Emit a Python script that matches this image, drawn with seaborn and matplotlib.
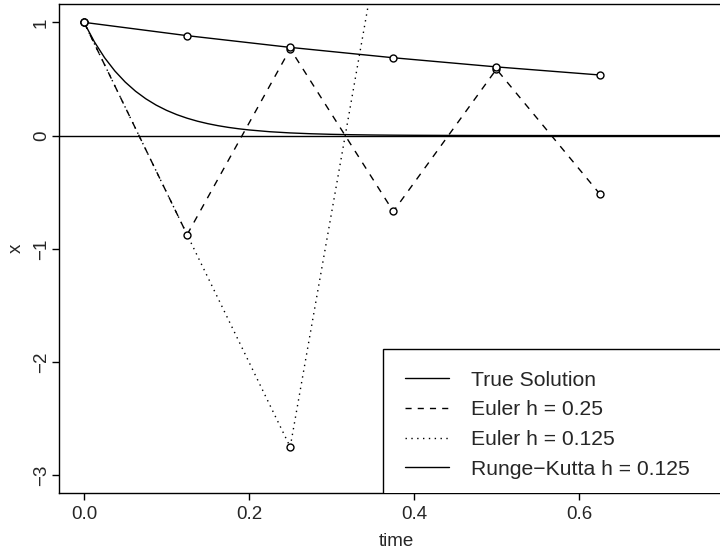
import numpy as np
import pandas as pd
import matplotlib
matplotlib.use("Agg")
import matplotlib.pyplot as plt
from matplotlib.lines import Line2D
import seaborn as sns

# ---- data ----
true_t = [0.0, 0.0125, 0.025, 0.0375, 0.05, 0.0625, 0.075, 0.0875, 0.1, 0.1125,
          0.125, 0.1375, 0.15, 0.1625, 0.175, 0.1875, 0.2, 0.225, 0.25, 0.275,
          0.3, 0.325, 0.35, 0.375, 0.4, 0.45, 0.5, 0.6, 0.7, 0.8]
true_x = [1.0, 0.8290, 0.6873, 0.5698, 0.4724, 0.3916, 0.3247, 0.2691, 0.2231, 0.1850,
          0.1534, 0.1271, 0.1054, 0.0874, 0.0724, 0.0601, 0.0498, 0.0342, 0.0235, 0.0162,
          0.0111, 0.0076, 0.0052, 0.0036, 0.0025, 0.0012, 0.0006, 0.0001, 0.0, 0.0]

euler_a_t = [0.0, 0.125, 0.25, 0.375, 0.5, 0.625]
euler_a_x = [1.0, -0.875, 0.7656, -0.6699, 0.5862, -0.5129]

euler_b_t = [0.0, 0.25, 0.5]
euler_b_x = [1.0, -2.75, 7.5625]

rk_t = [0.0, 0.125, 0.25, 0.375, 0.5, 0.625]
rk_x = [1.0, 0.8825, 0.7788, 0.6873, 0.6065, 0.5353]

legend_labels = ["True Solution", "Euler h = 0.25", "Euler h = 0.125",
                 "Runge\u2212Kutta h = 0.125"]
x_ticks = [0.0, 0.2, 0.4, 0.6]
x_tick_labels = ["0.0", "0.2", "0.4", "0.6"]
y_ticks = [-3, -2, -1, 0, 1]
y_tick_labels = ["\u22123", "\u22122", "\u22121", "0", "1"]

# ---- style ----
sns.set_style("white")
plt.rcParams["font.family"] = ["Liberation Sans", "DejaVu Sans"]
plt.rcParams["axes.unicode_minus"] = True

W, H = 720, 552
fig = plt.figure(figsize=(W / 100, H / 100), dpi=100)
left, right, top, bottom = 59, 734, 4, 493.3
ax = fig.add_axes([left / W, 1 - bottom / H, (right - left) / W, (bottom - top) / H])

dash_ls = (0, (5, 5))
dot_ls = (0, (1, 3.2))
mk = dict(marker="o", markersize=5, markerfacecolor="white",
          markeredgecolor="black", markeredgewidth=1.0)

df_true = pd.DataFrame({"t": true_t, "x": true_x})
df_ea = pd.DataFrame({"t": euler_a_t, "x": euler_a_x})
df_eb = pd.DataFrame({"t": euler_b_t, "x": euler_b_x})
df_rk = pd.DataFrame({"t": rk_t, "x": rk_x})

ax.axhline(0, color="black", lw=1.0, zorder=1)
sns.lineplot(data=df_true, x="t", y="x", ax=ax, color="black", lw=1.0,
             sort=False, estimator=None, zorder=2)
sns.lineplot(data=df_eb, x="t", y="x", ax=ax, color="black", lw=1.0,
             linestyle=dot_ls, sort=False, estimator=None, zorder=3, **mk)
sns.lineplot(data=df_ea, x="t", y="x", ax=ax, color="black", lw=1.0,
             linestyle=dash_ls, sort=False, estimator=None, zorder=4, **mk)
sns.lineplot(data=df_rk, x="t", y="x", ax=ax, color="black", lw=1.0,
             sort=False, estimator=None, zorder=5, **mk)

ax.set_xlim(-0.0303, 0.788)
ax.set_ylim(-3.159, 1.162)
ax.set_xticks(x_ticks)
ax.set_xticklabels(x_tick_labels)
ax.set_yticks(y_ticks)
ax.set_yticklabels(y_tick_labels, rotation=90, va="center")
ax.tick_params(axis="both", direction="out", length=5, width=1.0, color="black",
               labelsize=13.5, bottom=True, left=True)
ax.tick_params(axis="x", pad=4)
ax.tick_params(axis="y", pad=1.5)
for s in ["left", "bottom", "top", "right"]:
    ax.spines[s].set_color("black")
    ax.spines[s].set_linewidth(1.0)
ax.set_xlabel("time", fontsize=13.5, labelpad=7)
ax.set_ylabel("x", fontsize=13.5, labelpad=6)

handles = [Line2D([], [], color="black", lw=1.0),
           Line2D([], [], color="black", lw=1.0, linestyle=(0, (4.4, 4.4))),
           Line2D([], [], color="black", lw=1.0, linestyle=(0, (1, 3.2))),
           Line2D([], [], color="black", lw=1.0)]
lx0 = 383 / W
ly0 = 1 - 500.5 / H
leg = ax.legend(handles, legend_labels, loc="lower left",
                bbox_to_anchor=(lx0, ly0, (right - 383) / W, 0.2),
                bbox_transform=fig.transFigure, mode="expand",
                fontsize=15.2, frameon=True, fancybox=False, edgecolor="black",
                framealpha=1, borderpad=1.04, labelspacing=0.5,
                handlelength=2.08, handletextpad=1.04, borderaxespad=0)
frame = leg.get_frame()
frame.set_linewidth(1.0)
frame.set_clip_box(ax.bbox)
frame.set_clip_on(True)

fig.savefig("out.png", dpi=100)
